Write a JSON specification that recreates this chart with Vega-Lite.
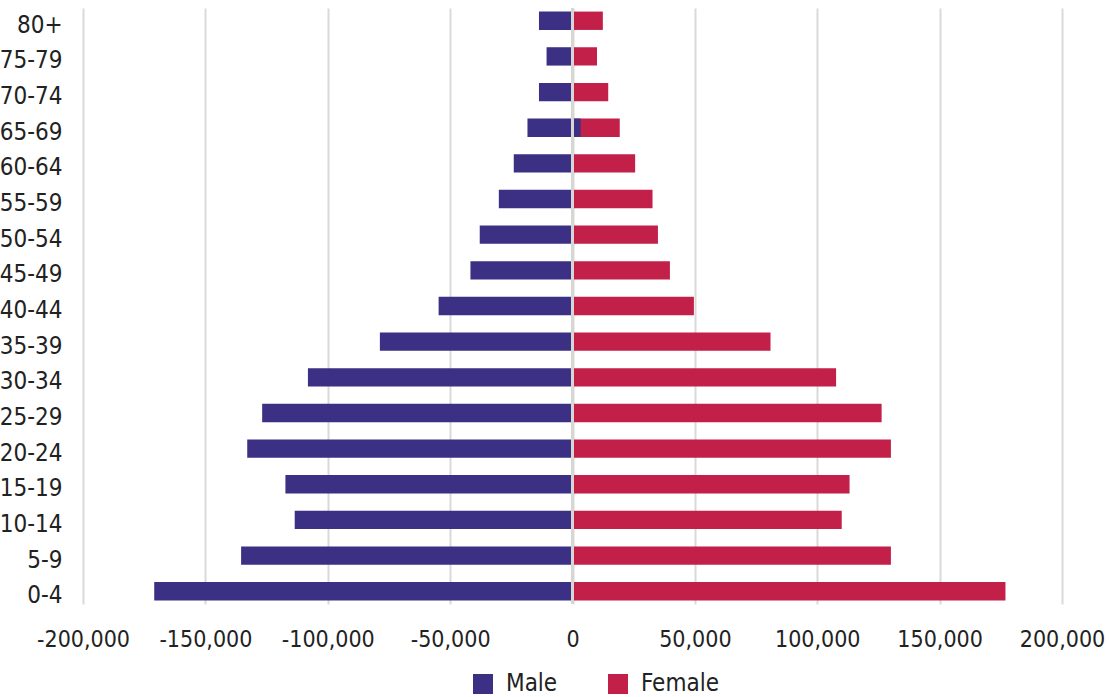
{
  "$schema": "https://vega.github.io/schema/vega-lite/v6.json",
  "autosize": {"type": "none"},
  "padding": {"left": 83, "top": 8, "right": 47, "bottom": 93},
  "width": 979,
  "height": 596,
  "background": "white",
  "config": {
    "view": {"stroke": null},
    "font": "DejaVu Sans Condensed",
    "axis": {"labelFont": "DejaVu Sans Condensed", "labelColor": "#222222", "labelFontSize": 24, "labelOverlap": false},
    "legend": {"labelFont": "DejaVu Sans Condensed", "labelColor": "#222222", "labelFontSize": 24}
  },
  "data": {
    "values": [
      {"age": "80+", "sex": "Male", "value": -13700},
      {"age": "75-79", "sex": "Male", "value": -10600},
      {"age": "70-74", "sex": "Male", "value": -13700},
      {"age": "65-69", "sex": "Male", "value": -18400},
      {"age": "60-64", "sex": "Male", "value": -24000},
      {"age": "55-59", "sex": "Male", "value": -30100},
      {"age": "50-54", "sex": "Male", "value": -37900},
      {"age": "45-49", "sex": "Male", "value": -41700},
      {"age": "40-44", "sex": "Male", "value": -54700},
      {"age": "35-39", "sex": "Male", "value": -78700},
      {"age": "30-34", "sex": "Male", "value": -108100},
      {"age": "25-29", "sex": "Male", "value": -126800},
      {"age": "20-24", "sex": "Male", "value": -132900},
      {"age": "15-19", "sex": "Male", "value": -117300},
      {"age": "10-14", "sex": "Male", "value": -113500},
      {"age": "5-9", "sex": "Male", "value": -135400},
      {"age": "0-4", "sex": "Male", "value": -170900},
      {"age": "80+", "sex": "Female", "value": 12400},
      {"age": "75-79", "sex": "Female", "value": 10000},
      {"age": "70-74", "sex": "Female", "value": 14600},
      {"age": "65-69", "sex": "Female", "value": 19300},
      {"age": "60-64", "sex": "Female", "value": 25600},
      {"age": "55-59", "sex": "Female", "value": 32700},
      {"age": "50-54", "sex": "Female", "value": 34900},
      {"age": "45-49", "sex": "Female", "value": 39800},
      {"age": "40-44", "sex": "Female", "value": 49600},
      {"age": "35-39", "sex": "Female", "value": 80900},
      {"age": "30-34", "sex": "Female", "value": 107700},
      {"age": "25-29", "sex": "Female", "value": 126300},
      {"age": "20-24", "sex": "Female", "value": 130100},
      {"age": "15-19", "sex": "Female", "value": 113200},
      {"age": "10-14", "sex": "Female", "value": 110000},
      {"age": "5-9", "sex": "Female", "value": 130100},
      {"age": "0-4", "sex": "Female", "value": 176900},
      {"age": "65-69", "sex": "Male", "value": 3300}
    ]
  },
  "layer": [
    {
      "mark": {"type": "bar"},
      "encoding": {
        "y": {
          "field": "age",
          "type": "nominal",
          "sort": ["80+","75-79","70-74","65-69","60-64","55-59","50-54","45-49","40-44","35-39","30-34","25-29","20-24","15-19","10-14","5-9","0-4"],
          "scale": {"paddingInner": 0.485, "paddingOuter": 0.1},
          "axis": {"title": null, "domain": false, "ticks": false, "labelPadding": 21, "labelOffset": 5, "grid": false}
        },
        "x": {
          "field": "value",
          "type": "quantitative",
          "stack": null,
          "scale": {"domain": [-200000, 200000], "nice": false},
          "axis": {
            "title": null,
            "values": [-200000, -150000, -100000, -50000, 0, 50000, 100000, 150000, 200000],
            "labelExpr": "replace(format(datum.value, ','), '\u2212', '-')",
            "labelFontSize": 23,
            "labelFlush": false,
            "domain": false,
            "ticks": false,
            "tickSize": 0,
            "labelPadding": 24,
            "grid": true,
            "gridColor": "#d9d9d9",
            "gridWidth": 2
          }
        },
        "color": {
          "field": "sex",
          "type": "nominal",
          "scale": {"domain": ["Male", "Female"], "range": ["#3b3083", "#c21f49"]},
          "legend": {
            "title": null,
            "orient": "none",
            "direction": "horizontal",
            "legendX": 388,
            "legendY": 664,
            "symbolType": "square",
            "symbolSize": 400,
            "symbolStrokeWidth": 0,
            "labelOffset": 11,
            "columnPadding": 48
          }
        }
      }
    },
    {
      "mark": {"type": "rule", "color": "#d6d6d2", "strokeWidth": 3},
      "encoding": {"x": {"datum": 0}}
    }
  ]
}
